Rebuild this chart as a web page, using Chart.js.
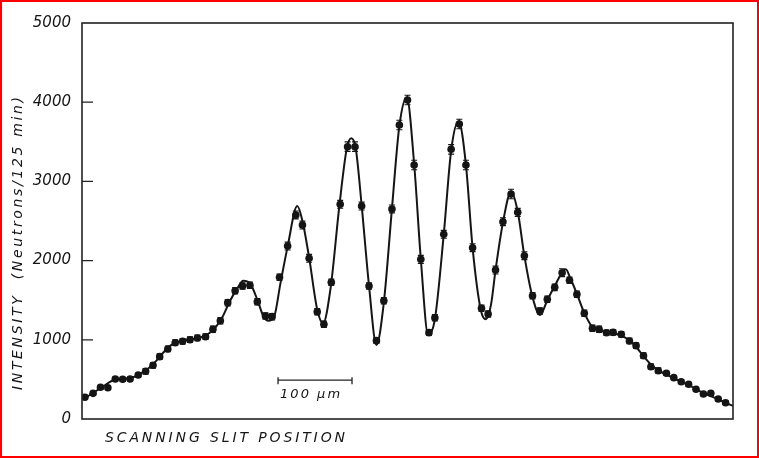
<!DOCTYPE html>
<html>
<head>
<meta charset="utf-8">
<script src="https://cdn.jsdelivr.net/npm/chart.js@4.4.1/dist/chart.umd.min.js"></script>
<style>
  html, body { margin: 0; padding: 0; background: #fff; }
  #wrap { position: relative; width: 759px; height: 458px; }
  #edge { position: absolute; left: 0; top: 0; width: 759px; height: 458px;
          box-sizing: border-box; border: 2px solid #f00; pointer-events: none; }
</style>
</head>
<body>
<div id="wrap">
  <canvas id="mychart"></canvas>
  <div id="edge"></div>
</div>
<script>
// slit position in micrometres
var positions = [4, 15, 25, 35, 45, 55, 65, 76, 86, 96,
  105, 116, 126, 136, 146, 156, 167, 177, 187, 197,
  207, 217, 227, 237, 248, 257, 267, 278, 289, 298,
  307, 318, 327, 337, 349, 359, 369, 378, 388, 398,
  408, 419, 429, 440, 449, 458, 469, 477, 489, 499,
  510, 519, 528, 540, 549, 559, 569, 580, 589, 598,
  609, 619, 629, 639, 649, 659, 669, 679, 690, 699,
  709, 718, 729, 740, 749, 759, 769, 779, 790, 800,
  810, 820, 830, 840, 850, 860, 870];

// measured counts (neutrons / 125 min)
var counts = [274, 324, 400, 395, 505, 501, 505, 556, 602, 678,
  787, 884, 963, 981, 1001, 1023, 1039, 1132, 1241, 1469,
  1620, 1679, 1688, 1481, 1300, 1292, 1789, 2184, 2576, 2449,
  2029, 1355, 1196, 1726, 2711, 3438, 3438, 2689, 1679, 989,
  1494, 2652, 3712, 4028, 3207, 2016, 1090, 1279, 2332, 3405,
  3725, 3207, 2163, 1398, 1326, 1881, 2491, 2841, 2609, 2062,
  1557, 1364, 1511, 1662, 1847, 1751, 1574, 1334, 1145, 1132,
  1089, 1094, 1069, 985, 926, 799, 660, 610, 577, 522,
  471, 438, 375, 316, 324, 253, 206];

// error bar half-heights
var errors = [25, 25, 25, 25, 25, 25, 25, 25, 35, 35,
  35, 35, 35, 35, 35, 35, 35, 40, 40, 40,
  40, 40, 40, 40, 40, 40, 40, 50, 50, 50,
  50, 40, 40, 40, 50, 60, 60, 50, 40, 35,
  40, 50, 60, 60, 60, 50, 35, 40, 50, 60,
  60, 60, 50, 40, 40, 50, 50, 60, 50, 50,
  40, 40, 40, 40, 50, 40, 40, 40, 40, 40,
  35, 35, 35, 35, 35, 35, 35, 35, 25, 25,
  25, 25, 25, 25, 25, 25, 25];

// theory curve drawn through the data
var curveX = [0, 10, 20, 30, 40, 50, 60, 70, 80, 90,
  100, 110, 120, 130, 140, 150, 160, 170, 180, 190,
  200, 210, 218, 228, 238, 245, 252, 260, 268, 278,
  291, 298, 307, 318, 326, 336, 348, 358, 364, 370,
  378, 388, 398, 408, 419, 429, 439, 449, 458, 468,
  477, 489, 499, 509, 519, 528, 539, 546, 553, 559,
  569, 580, 589, 598, 609, 619, 629, 639, 654, 660,
  669, 679, 690, 700, 710, 720, 730, 740, 750, 760,
  770, 780, 790, 800, 810, 820, 830, 840, 850, 860,
  870, 880];
var curveY = [250, 300, 360, 420, 480, 505, 510, 530, 575, 640,
  730, 840, 930, 975, 995, 1010, 1030, 1070, 1150, 1290,
  1490, 1650, 1745, 1700, 1480, 1300, 1240, 1300, 1700, 2180,
  2690, 2500, 2040, 1380, 1210, 1650, 2700, 3420, 3545, 3420,
  2700, 1680, 935, 1470, 2660, 3700, 4060, 3220, 2020, 1060,
  1260, 2330, 3390, 3760, 3210, 2160, 1380, 1260, 1450, 1880,
  2480, 2870, 2620, 2060, 1540, 1313, 1500, 1680, 1890, 1780,
  1580, 1340, 1160, 1120, 1095, 1080, 1050, 990, 900, 780,
  680, 610, 560, 515, 470, 430, 375, 330, 290, 250,
  205, 165];

var yTicks = [0, 1000, 2000, 3000, 4000, 5000];
var yTitle = "INTENSITY  (Neutrons/125 min)";
var xTitle = "SCANNING SLIT POSITION";
var barLabel = "100 \u00b5m";

var ink = "#151515";

function pairs(xs, ys) {
    var out = [];
    for (var i = 0; i < xs.length; i++) {
        out.push({ x: xs[i], y: ys[i] });
    }
    return out;
}

// draws text spread out to a given length
function spacedText(ctx, text, x, y, length) {
    ctx.letterSpacing = "0px";
    var w = ctx.measureText(text).width;
    var sp = (length - w) / (text.length - 1);
    ctx.letterSpacing = sp + "px";
    ctx.fillText(text, x, y);
    ctx.letterSpacing = "0px";
}

// error bars for the measured points
var errorBars = {
    id: "errorBars",
    afterDatasetsDraw: function (chart) {
        var ctx = chart.ctx;
        var meta = chart.getDatasetMeta(1);
        var y = chart.scales.y;
        ctx.save();
        ctx.strokeStyle = ink;
        ctx.lineWidth = 1.2;
        meta.data.forEach(function (pt, i) {
            var top = y.getPixelForValue(counts[i] + errors[i]);
            var bot = y.getPixelForValue(counts[i] - errors[i]);
            ctx.beginPath();
            ctx.moveTo(pt.x, top); ctx.lineTo(pt.x, bot);
            ctx.moveTo(pt.x - 3, top); ctx.lineTo(pt.x + 3, top);
            ctx.moveTo(pt.x - 3, bot); ctx.lineTo(pt.x + 3, bot);
            ctx.stroke();
        });
        ctx.restore();
    }
};

// frame, inward ticks, scale bar and titles
var decorations = {
    id: "decorations",
    afterDraw: function (chart) {
        var ctx = chart.ctx;
        var a = chart.chartArea;
        var x = chart.scales.x, y = chart.scales.y;
        ctx.save();
        ctx.strokeStyle = "#222";
        ctx.lineWidth = 1.6;
        ctx.strokeRect(a.left, a.top, a.right - a.left, a.bottom - a.top);

        ctx.lineWidth = 1.2;
        ctx.beginPath();
        for (var i = 1; i < yTicks.length - 1; i++) {
            var py = y.getPixelForValue(yTicks[i]);
            ctx.moveTo(a.left, py);
            ctx.lineTo(a.left + 11, py);
        }
        ctx.stroke();

        // 100 um scale bar
        var x0 = x.getPixelForValue(265), x1 = x.getPixelForValue(365);
        var by = y.getPixelForValue(490);
        ctx.lineWidth = 1.3;
        ctx.beginPath();
        ctx.moveTo(x0, by); ctx.lineTo(x1, by);
        ctx.moveTo(x0, by - 3); ctx.lineTo(x0, by + 4);
        ctx.moveTo(x1, by - 3); ctx.lineTo(x1, by + 4);
        ctx.stroke();

        ctx.fillStyle = ink;
        ctx.font = "italic 13px 'DejaVu Sans'";
        ctx.textBaseline = "middle";
        ctx.textAlign = "left";
        spacedText(ctx, barLabel, x0 + 2, by + 14, 60);

        ctx.font = "italic 14px 'DejaVu Sans'";
        spacedText(ctx, xTitle, 105, 438, 240);

        ctx.translate(18, 390);
        ctx.rotate(-Math.PI / 2);
        spacedText(ctx, yTitle, 0, 0, 293);
        ctx.restore();
    }
};

var chart = new Chart(document.getElementById("mychart"), {
    type: "line",
    data: {
        datasets: [
            {
                label: "theory",
                data: pairs(curveX, curveY),
                borderColor: ink,
                borderWidth: 2,
                pointRadius: 0,
                cubicInterpolationMode: "monotone",
                fill: false
            },
            {
                label: "measured",
                data: pairs(positions, counts),
                showLine: false,
                pointRadius: 3.8,
                pointBackgroundColor: ink,
                pointBorderColor: ink,
                pointBorderWidth: 0
            }
        ]
    },
    options: {
        responsive: true,
        maintainAspectRatio: false,
        animation: false,
        layout: { padding: { top: 23, right: 26, left: 0, bottom: 0 } },
        plugins: { legend: { display: false }, tooltip: { enabled: false } },
        scales: {
            x: {
                type: "linear",
                min: 0,
                max: 880,
                grid: { display: false, drawTicks: false },
                border: { display: false },
                ticks: { display: false },
                afterFit: function (s) { s.height = 39; }
            },
            y: {
                min: 0,
                max: 5000,
                grid: { display: false, drawTicks: false },
                border: { display: false },
                afterBuildTicks: function (s) {
                    s.ticks = yTicks.map(function (v) { return { value: v }; });
                },
                ticks: {
                    color: ink,
                    padding: 11,
                    font: { family: "'DejaVu Sans'", size: 15, style: "italic" },
                    callback: function (v) { return String(v); }
                },
                afterFit: function (s) { s.width = 82; }
            }
        }
    },
    plugins: [errorBars, decorations]
});
</script>
</body>
</html>
